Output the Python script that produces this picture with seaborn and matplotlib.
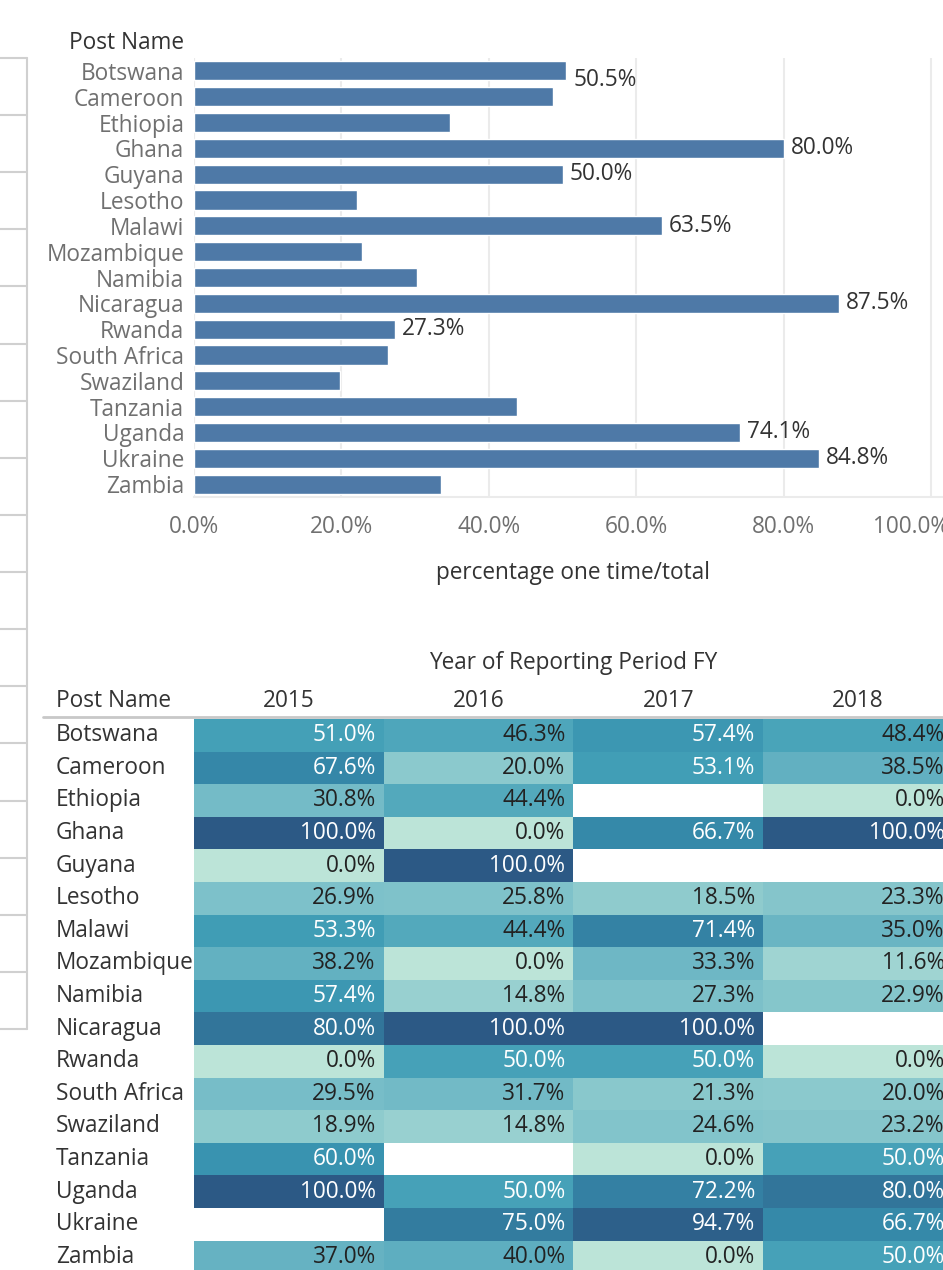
import numpy as np
import pandas as pd
import matplotlib
matplotlib.use("Agg")
import matplotlib.pyplot as plt
from matplotlib.colors import LinearSegmentedColormap
from matplotlib.lines import Line2D
import matplotlib.transforms as mtransforms
import seaborn as sns

# ---------------- data ----------------
posts = ["Botswana", "Cameroon", "Ethiopia", "Ghana", "Guyana", "Lesotho", "Malawi",
         "Mozambique", "Namibia", "Nicaragua", "Rwanda", "South Africa", "Swaziland",
         "Tanzania", "Uganda", "Ukraine", "Zambia"]
pct_one_time = [0.505, 0.487, 0.347, 0.800, 0.500, 0.221, 0.635, 0.228, 0.303, 0.875,
                0.273, 0.263, 0.198, 0.438, 0.741, 0.848, 0.335]
labeled_posts = ["Botswana", "Ghana", "Guyana", "Malawi", "Nicaragua", "Rwanda",
                 "Uganda", "Ukraine"]
x_ticks = [0.0, 0.2, 0.4, 0.6, 0.8, 1.0]

years = ["2015", "2016", "2017", "2018"]
nan = np.nan
v2015 = [0.510, 0.676, 0.308, 1.000, 0.000, 0.269, 0.533, 0.382, 0.574, 0.800, 0.000,
         0.295, 0.189, 0.600, 1.000, nan, 0.370]
v2016 = [0.463, 0.200, 0.444, 0.000, 1.000, 0.258, 0.444, 0.000, 0.148, 1.000, 0.500,
         0.317, 0.148, nan, 0.500, 0.750, 0.400]
v2017 = [0.574, 0.531, nan, 0.667, nan, 0.185, 0.714, 0.333, 0.273, 1.000, 0.500,
         0.213, 0.246, 0.000, 0.722, 0.947, 0.000]
v2018 = [0.484, 0.385, 0.000, 1.000, nan, 0.233, 0.350, 0.116, 0.229, nan, 0.000,
         0.200, 0.232, 0.500, 0.800, 0.667, 0.500]

# ---------------- style ----------------
sns.set_style("white")
plt.rcParams["font.family"] = ["Open Sans", "DejaVu Sans"]
FS = 16.3

W, H = 943, 1270
fig = plt.figure(figsize=(W / 100, H / 100), dpi=100)

def fx(px):
    return px / W

def fy(py):
    return 1 - py / H

GRID = "#ebebeb"
DARK = "#333333"
GRAY = "#707070"

# ---------------- left cut-off panel decoration ----------------
ys = np.linspace(58, 1029, 18)
for yv in ys:
    fig.add_artist(Line2D([0, fx(27)], [fy(yv), fy(yv)], color="#d0d0d0", lw=1.5,
                          transform=fig.transFigure))
fig.add_artist(Line2D([fx(27), fx(27)], [fy(58), fy(1029)], color="#d0d0d0", lw=1.5,
                      transform=fig.transFigure))

# ---------------- bar chart ----------------
ax_left, ax_right, ax_top, ax_bot = 194, 951, 58, 497
ax1 = fig.add_axes([fx(ax_left), fy(ax_bot), fx(ax_right - ax_left), (ax_bot - ax_top) / H])
bar_df = pd.DataFrame({"post": posts, "pct": pct_one_time})
sns.barplot(data=bar_df, x="pct", y="post", orient="h", color="#4e79a7", width=0.74,
            saturation=1, ax=ax1, zorder=3)
ax1.set_xlim(0, (ax_right - ax_left) / 737)
ax1.set_ylim(len(posts) - 0.5, -0.5)
ax1.set_xticks(x_ticks)
ax1.set_xticklabels([])
ax1.tick_params(axis="x", length=10, color=GRID, width=1.5)
ax1.tick_params(axis="y", length=0, labelsize=FS, labelcolor=GRAY, pad=7)
ax1.grid(axis="x", color=GRID, lw=1.5, zorder=0)
for s in ["top", "right", "left"]:
    ax1.spines[s].set_visible(False)
ax1.spines["bottom"].set_color(GRID)
ax1.spines["bottom"].set_linewidth(1.5)
ax1.axvline(0, color=GRID, lw=1.5, zorder=1)
ax1.set_xlabel("")
ax1.set_ylabel("")
for t in x_ticks:
    lab = ax1.text(t, -30 / (ax_bot - ax_top), f"{t*100:.1f}%", ha="center", va="center",
                   fontsize=FS, color=GRAY,
                   transform=mtransforms.blended_transform_factory(ax1.transData, ax1.transAxes))
    if t == x_ticks[-1]:
        lab.set_transform(lab.get_transform() +
                          mtransforms.ScaledTranslation(-20 / 100, 0, fig.dpi_scale_trans))
fig.text(fx(573), fy(573), "percentage one time/total", ha="center", va="center",
         fontsize=FS, color=DARK)
fig.text(fx(184), fy(43), "Post Name", ha="right", va="center", fontsize=FS, color=DARK)
for i, (p, v) in enumerate(zip(posts, pct_one_time)):
    if p in labeled_posts:
        dy = -9 if i == 0 else 0
        ax1.annotate(f"{v*100:.1f}%", (v, i), xytext=(7, dy), textcoords="offset pixels",
                     ha="left", va="center", fontsize=FS, color=DARK)

# ---------------- heatmap table ----------------
hm_left, hm_top, col_w, row_h = 194, 719, 189.7, 32.6
hm_w = col_w * len(years)
hm_h = row_h * len(posts)
ax2 = fig.add_axes([fx(hm_left), fy(hm_top + hm_h), hm_w / W, hm_h / H])
hm_df = pd.DataFrame({"2015": v2015, "2016": v2016, "2017": v2017, "2018": v2018},
                     index=posts)[years]
blue_teal = ["#bce4d8", "#aedcd5", "#a1d5d2", "#95cecf", "#89c8cc", "#7ec1ca", "#72bac6",
             "#66b2c2", "#59acbe", "#4ba5ba", "#419eb6", "#3b96b2", "#358ead", "#3586a7",
             "#347ea1", "#32779b", "#316f96", "#2f6790", "#2d608a", "#2c5985"]
cmap = LinearSegmentedColormap.from_list("blue_teal", blue_teal)
sns.heatmap(hm_df, cmap=cmap, vmin=0, vmax=1, cbar=False, ax=ax2, linewidths=0)
ax2.set_xticks([])
ax2.set_yticks([])
ax2.set_xlabel("")
ax2.set_ylabel("")
for i, p in enumerate(posts):
    for j, yr in enumerate(years):
        v = hm_df.loc[p, yr]
        if np.isnan(v):
            continue
        ax2.text(j + 1 - 8 / col_w, i + 0.5, f"{v*100:.1f}%", ha="right", va="center",
                 fontsize=FS, color="white" if v >= 0.5 else "#222222")
row_tr = mtransforms.blended_transform_factory(ax2.transAxes, ax2.transData)
for i, p in enumerate(posts):
    ax2.text((56 - hm_left) / hm_w, i + 0.5, p, ha="left", va="center", fontsize=FS,
             color=DARK, transform=row_tr)
for j, yr in enumerate(years):
    fig.text(fx(hm_left + col_w * (j + 0.5)), fy(701), yr, ha="center", va="center",
             fontsize=FS, color=DARK)
fig.text(fx(56), fy(701), "Post Name", ha="left", va="center", fontsize=FS, color=DARK)
fig.text(fx(hm_left + hm_w / 2), fy(663), "Year of Reporting Period FY", ha="center",
         va="center", fontsize=FS, color=DARK)
fig.add_artist(Line2D([fx(43), 1], [fy(717), fy(717)], color="#c8c8c8", lw=2,
                      transform=fig.transFigure))

fig.savefig("out.png", dpi=100)
